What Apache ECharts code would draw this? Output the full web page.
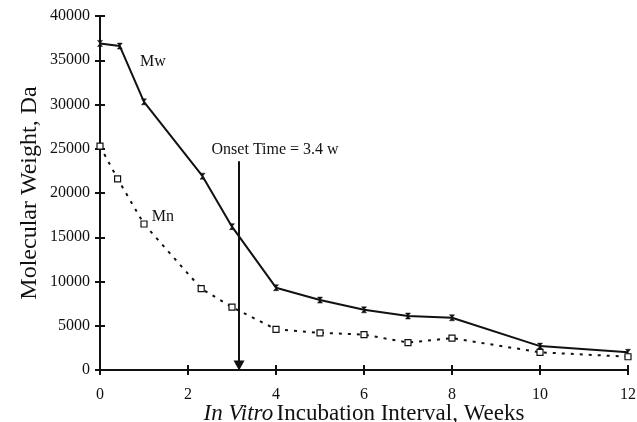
<!DOCTYPE html>
<html>
<head>
<meta charset="utf-8">
<script src="https://cdn.jsdelivr.net/npm/echarts@6/dist/echarts.min.js"></script>
<style>
  html, body { margin: 0; padding: 0; background: #fff; }
  #chart { width: 637px; height: 422px; }
</style>
</head>
<body>
<div id="chart"></div>
<script>
// weeks of incubation
const mwWeeks = [0, 0.45, 1.0, 2.33, 3.0, 4, 5, 6, 7, 8, 10, 12];
const mwValues = [36900, 36600, 30300, 21900, 16200, 9300, 7900, 6800, 6100, 5900, 2700, 2000];
const mnWeeks = [0, 0.4, 1.0, 2.3, 3.0, 4, 5, 6, 7, 8, 10, 12];
const mnValues = [25300, 21600, 16500, 9200, 7100, 4600, 4200, 4000, 3100, 3600, 2000, 1500];
const onsetWeek = 3.16;
const onsetTop = 23600;

const font = 'Liberation Serif';
const black = '#111';

const chart = echarts.init(document.getElementById('chart'));

const mwSymbol = 'path://M0,0 L10,0 L0,10 L10,10 Z';

const option = {
  animation: false,
  backgroundColor: '#fff',
  grid: { left: 100, right: 9, top: 16, bottom: 52, outerBoundsMode: 'none', containLabel: false },
  xAxis: [{
    type: 'value',
    min: 0, max: 12, interval: 2,
    name: '{i|In Vitro} {n|Incubation Interval, Weeks}',
    nameLocation: 'middle',
    nameGap: 32,
    nameMoveOverlap: false,
    nameTextStyle: {
      rich: {
        i: { fontFamily: font, fontStyle: 'italic', fontSize: 23, color: black },
        n: { fontFamily: font, fontSize: 23, color: black }
      }
    },
    axisLine: { show: true, lineStyle: { color: black, width: 2 } },
    axisTick: { show: true, length: 5, lineStyle: { color: black, width: 2 } },
    axisLabel: { fontFamily: font, fontSize: 16, color: black, margin: 17 },
    splitLine: { show: false }
  }, {
    type: 'value', position: 'bottom',
    min: 0, max: 12, interval: 2,
    axisLine: { show: false },
    axisTick: { show: true, inside: true, length: 5, lineStyle: { color: black, width: 2 } },
    axisLabel: { show: false },
    splitLine: { show: false }
  }],
  yAxis: [{
    type: 'value',
    min: 0, max: 40000, interval: 5000,
    name: 'Molecular Weight, Da',
    nameLocation: 'middle',
    nameGap: 58,
    nameMoveOverlap: false,
    nameTextStyle: { fontFamily: font, fontSize: 24, color: black },
    axisLine: { show: true, lineStyle: { color: black, width: 2 } },
    axisTick: { show: true, length: 5, lineStyle: { color: black, width: 2 } },
    axisLabel: { fontFamily: font, fontSize: 16, color: black, margin: 10, formatter: v => String(v) },
    splitLine: { show: false }
  }, {
    type: 'value', position: 'left',
    min: 0, max: 40000, interval: 5000,
    axisLine: { show: false },
    axisTick: { show: true, inside: true, length: 5, lineStyle: { color: black, width: 2 } },
    axisLabel: { show: false },
    splitLine: { show: false }
  }],
  series: [{
    name: 'Mw',
    type: 'line',
    data: mwWeeks.map((w, i) => [w, mwValues[i]]),
    symbol: mwSymbol,
    symbolSize: [5, 6],
    showAllSymbol: true,
    lineStyle: { color: black, width: 2 },
    itemStyle: { color: black, borderColor: black, borderWidth: 0.5 },
    markPoint: {
      symbol: 'circle', symbolSize: 0,
      label: { show: true, fontFamily: font, fontSize: 16, color: black, formatter: '{b}' },
      data: [
        { name: 'Mw', coord: [1.2, 34800] },
        { name: 'Onset Time = 3.4 w', coord: [3.98, 24900] }
      ]
    },
    markLine: {
      silent: true,
      symbol: ['none', 'triangle'],
      symbolSize: [11, 10],
      label: { show: false },
      lineStyle: { color: black, width: 2, type: 'solid' },
      data: [[{ coord: [onsetWeek, onsetTop] }, { coord: [onsetWeek, 500] }]]
    }
  }, {
    name: 'Mn',
    type: 'line',
    data: mnWeeks.map((w, i) => [w, mnValues[i]]),
    symbol: 'rect',
    symbolSize: 6,
    showAllSymbol: true,
    lineStyle: { color: black, width: 2, type: [3, 6] },
    itemStyle: { color: '#fff', borderColor: black, borderWidth: 1.2 },
    markPoint: {
      symbol: 'circle', symbolSize: 0,
      label: { show: true, fontFamily: font, fontSize: 16, color: black, formatter: '{b}' },
      data: [{ name: 'Mn', coord: [1.43, 17300] }]
    }
  }]
};

chart.setOption(option);
</script>
</body>
</html>
